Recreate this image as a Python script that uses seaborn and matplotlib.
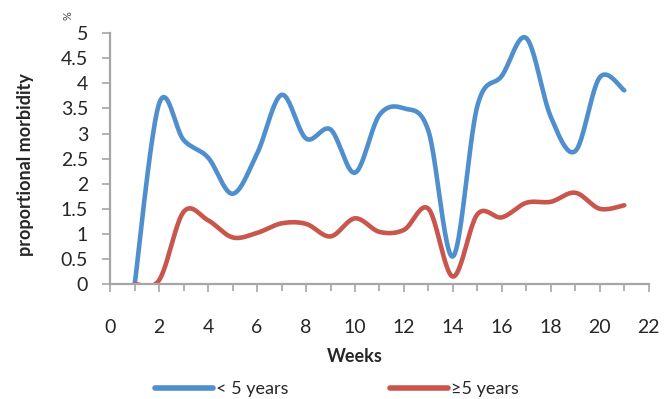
import numpy as np
import pandas as pd
import matplotlib
matplotlib.use("Agg")
import matplotlib.pyplot as plt
import seaborn as sns
from matplotlib.ticker import MultipleLocator
from matplotlib.lines import Line2D

# data
weeks = list(range(1, 22))
under5 = [0, 3.6, 2.87, 2.52, 1.8, 2.6, 3.77, 2.9, 3.08, 2.22, 3.37,
          3.5, 3.05, 0.55, 3.55, 4.15, 4.9, 3.33, 2.65, 4.12, 3.86]
over5 = [0, 0.08, 1.44, 1.27, 0.93, 1.02, 1.21, 1.2, 0.95, 1.31, 1.04,
         1.08, 1.5, 0.15, 1.39, 1.33, 1.62, 1.64, 1.82, 1.5, 1.57]
series_labels = ["< 5 years", "\u22655 years"]
colors = ["#4f8fcd", "#c9564c"]


def smooth(x, y, n=24):
    """Catmull-Rom curve through the points (like Excel's smoothed line)"""
    x = np.asarray(x, float)
    y = np.asarray(y, float)
    px = np.concatenate([[x[0]], x, [x[-1]]])
    py = np.concatenate([[y[0]], y, [y[-1]]])
    xs, ys = [], []
    t = np.linspace(0, 1, n, endpoint=False)
    for i in range(1, len(px) - 2):
        for arr, out in ((px, xs), (py, ys)):
            p0, p1, p2, p3 = arr[i - 1], arr[i], arr[i + 1], arr[i + 2]
            c1 = p1 + (p2 - p0) / 6
            c2 = p2 - (p3 - p1) / 6
            out.extend((1 - t) ** 3 * p1 + 3 * (1 - t) ** 2 * t * c1
                       + 3 * (1 - t) * t ** 2 * c2 + t ** 3 * p2)
    xs.append(x[-1])
    ys.append(y[-1])
    return np.array(xs), np.array(ys)


sns.set_style("ticks")
plt.rcParams['font.family'] = ['Lato', 'DejaVu Sans']

fig = plt.figure(figsize=(6.64, 3.99), dpi=100)
ax = fig.add_axes([0.166, 0.288, 0.811, 0.629])

for vals, lab, col in zip([under5, over5], series_labels, colors):
    sx, sy = smooth(weeks, vals)
    sns.lineplot(x=sx, y=sy, ax=ax, color=col, linewidth=3.3, sort=False,
                 estimator=None, label=lab, solid_capstyle='round')

ax.set_xlim(0, 22)
ax.set_ylim(0, 5)
ax.xaxis.set_major_locator(MultipleLocator(2))
ax.xaxis.set_minor_locator(MultipleLocator(1))
ax.yaxis.set_major_locator(MultipleLocator(0.5))
ax.set_yticklabels([f"{v:g}" for v in ax.get_yticks()])

for side in ['top', 'right']:
    ax.spines[side].set_visible(False)
for side in ['left', 'bottom']:
    ax.spines[side].set_color('#a6a6a6')
    ax.spines[side].set_linewidth(1.6)

ax.tick_params(axis='x', which='major', length=6, width=1.2, color='#a6a6a6',
               labelsize=14, pad=19, labelcolor='#262626')
ax.tick_params(axis='x', which='minor', length=5, width=1.2, color='#a6a6a6')
ax.tick_params(axis='y', length=6, width=1.2, color='#a6a6a6',
               labelsize=14, pad=10, labelcolor='#262626')

ax.set_xlabel("")
ax.set_ylabel("")
fig.text(25 / 664, 1 - 165 / 399, "proportional morbidity", rotation=90,
         ha='center', va='center', fontsize=13, fontweight='bold')
fig.text(355 / 664, 1 - 357 / 399, "Weeks", ha='center', va='center',
         fontsize=13, fontweight='bold')
fig.text(68 / 664, 1 - 16 / 399, "%", rotation=90, ha='center', va='center',
         fontsize=8, color='#444444')

ax.get_legend().remove()
handles = [Line2D([], [], color=c, linewidth=4) for c in colors]
fig.legend(handles, series_labels, loc='center', ncol=2,
           bbox_to_anchor=(337 / 664, 1 - 389 / 399), frameon=False,
           fontsize=13, handlelength=3.2, handletextpad=0.2,
           columnspacing=5.6)

fig.savefig("out.png", dpi=100)
